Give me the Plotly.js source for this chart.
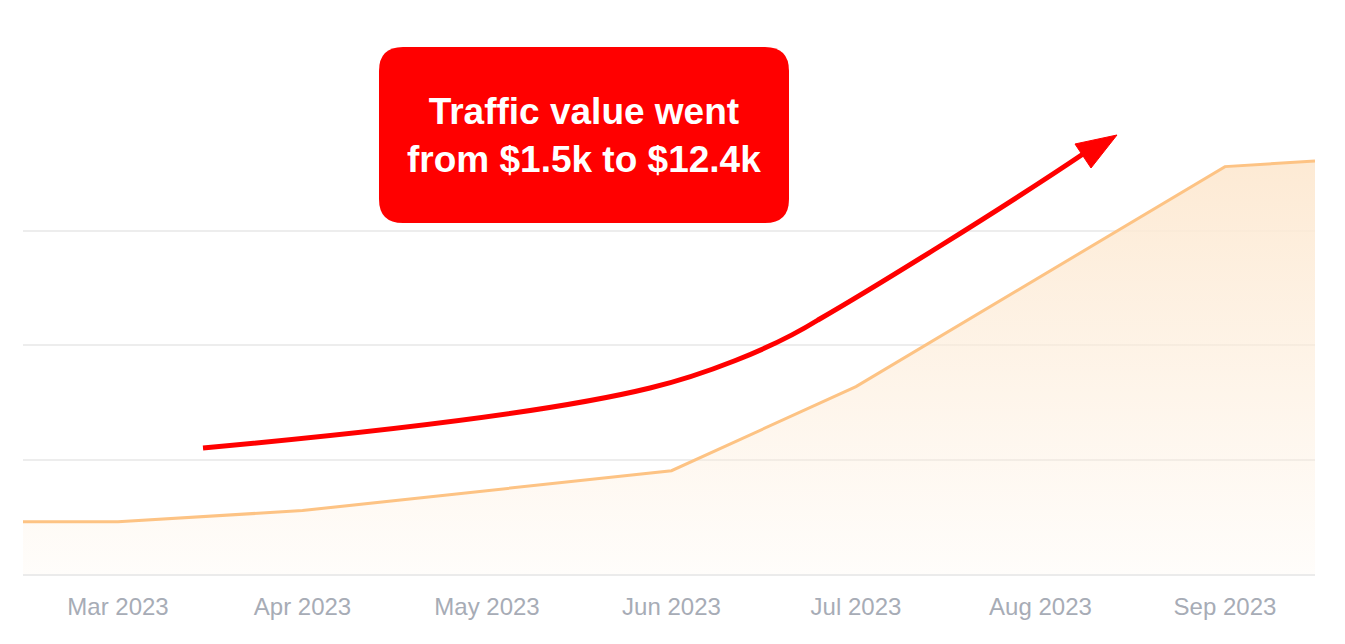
<!DOCTYPE html>
<html>
<head>
<meta charset="utf-8">
<script src="https://cdn.plot.ly/plotly-3.0.1.min.js"></script>
<style>
  html, body { margin: 0; padding: 0; background: #ffffff; }
  #chart { width: 1345px; height: 644px; }
</style>
</head>
<body>
<div id="chart"></div>
<script>
// ---- data ----
const monthLabels = ['Mar 2023', 'Apr 2023', 'May 2023', 'Jun 2023', 'Jul 2023', 'Aug 2023', 'Sep 2023'];
const monthPos = [0, 1, 2, 3, 4, 5, 6];
// positions in months (0 = Mar 2023)
const pointPos = [-0.515, 0, 1, 2, 3, 4, 5, 6, 6.488];
// traffic value, thousands of $
const trafficK = [1.60, 1.60, 1.94, 2.54, 3.16, 5.73, 9.10, 12.46, 12.63];
const calloutLines = ['Traffic value went', 'from $1.5k to $12.4k'];

// ---- layout geometry ----
const W = 1345, H = 644;
const M = { l: 23, r: 30, t: 130, b: 70 };
const plotW = W - M.l - M.r, plotH = H - M.t - M.b;
const px = v => ((v - M.l) / plotW).toFixed(5);
const py = v => ((H - M.b - v) / plotH).toFixed(5);
const P = (x, y) => px(x) + ',' + py(y);

// rounded callout box
const bx0 = 379, bx1 = 789, by0 = 47, by1 = 223, rr = 24;
const boxPath =
  'M ' + P(bx0 + rr, by0) +
  ' L ' + P(bx1 - rr, by0) +
  ' Q ' + P(bx1, by0) + ' ' + P(bx1, by0 + rr) +
  ' L ' + P(bx1, by1 - rr) +
  ' Q ' + P(bx1, by1) + ' ' + P(bx1 - rr, by1) +
  ' L ' + P(bx0 + rr, by1) +
  ' Q ' + P(bx0, by1) + ' ' + P(bx0, by1 - rr) +
  ' L ' + P(bx0, by0 + rr) +
  ' Q ' + P(bx0, by0) + ' ' + P(bx0 + rr, by0) + ' Z';

// curved red arrow
const arrowPath =
  'M ' + P(203, 448) +
  ' C ' + P(400, 430) + ' ' + P(560, 410) + ' ' + P(650, 388) +
  ' C ' + P(700, 376) + ' ' + P(770, 350) + ' ' + P(818, 320) +
  ' C ' + P(870, 290) + ' ' + P(1000, 210) + ' ' + P(1086, 152);
const headPath = 'M ' + P(1117, 135) + ' L ' + P(1075, 144) + ' L ' + P(1091, 168) + ' Z';

const trace = {
  x: pointPos,
  y: trafficK,
  type: 'scatter',
  mode: 'lines',
  line: { color: '#fdc384', width: 3 },
  fill: 'tozeroy',
  fillgradient: {
    type: 'vertical',
    start: 0,
    stop: 12.63,
    colorscale: [[0, 'rgba(253,236,216,0.12)'], [1, 'rgba(253,234,212,1)']]
  },
  hoverinfo: 'skip'
};

const layout = {
  width: W, height: H,
  margin: M,
  paper_bgcolor: '#ffffff',
  plot_bgcolor: '#ffffff',
  showlegend: false,
  font: { family: 'Liberation Sans, Arial, sans-serif' },
  xaxis: {
    range: [pointPos[0], pointPos[pointPos.length - 1]],
    tickvals: monthPos,
    ticktext: monthLabels,
    showgrid: false,
    zeroline: false,
    showline: true,
    linecolor: '#ebebeb',
    linewidth: 2,
    ticks: '',
    ticklabelstandoff: 10,
    tickfont: { family: 'Liberation Sans, Arial, sans-serif', size: 24, color: '#a7acb6' },
    fixedrange: true
  },
  yaxis: {
    range: [0, 13.58],
    tick0: 0,
    dtick: 3.5,
    showticklabels: false,
    showgrid: true,
    gridcolor: '#ededed',
    gridwidth: 2,
    zeroline: false,
    showline: false,
    ticks: '',
    fixedrange: true
  },
  shapes: [
    { type: 'path', xref: 'paper', yref: 'paper', path: boxPath, fillcolor: '#ff0000', line: { width: 0 }, layer: 'above' },
    { type: 'path', xref: 'paper', yref: 'paper', path: arrowPath, line: { color: '#ff0000', width: 5 }, layer: 'above' },
    { type: 'path', xref: 'paper', yref: 'paper', path: headPath, fillcolor: '#ff0000', line: { color: '#ff0000', width: 1 }, layer: 'above' }
  ],
  annotations: [
    {
      xref: 'paper', yref: 'paper',
      x: +px((bx0 + bx1) / 2), y: +py((by0 + by1) / 2 + 1),
      xanchor: 'center', yanchor: 'middle',
      text: '<b>' + calloutLines.join('<br>') + '</b>',
      showarrow: false,
      align: 'center',
      font: { family: 'Liberation Sans, Arial, sans-serif', size: 37, color: '#ffffff' }
    }
  ]
};

Plotly.newPlot('chart', [trace], layout, { displayModeBar: false, staticPlot: true });
</script>
</body>
</html>
